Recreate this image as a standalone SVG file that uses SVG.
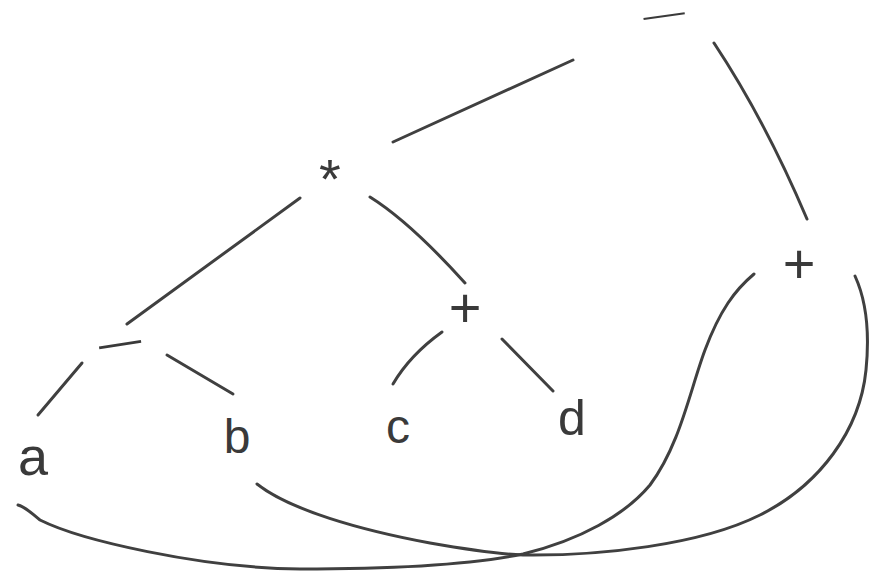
<svg xmlns="http://www.w3.org/2000/svg" width="876" height="574" viewBox="0 0 876 574">
<style>
.bg{fill:#ffffff}
.edge{fill:none;stroke:#404040;stroke-width:3;stroke-linecap:round;stroke-linejoin:round}
.lbl{font-family:"Liberation Sans",Arial,sans-serif;fill:#3a3a3a;text-anchor:middle}
</style>
<rect class="bg" x="0" y="0" width="876" height="574"/>
<g id="connectors">
<path class="edge" d="M573,60 L393,142"/>
<path class="edge" d="M714,43 Q765,120 807,219"/>
<path class="edge" d="M300,198 L127,324"/>
<path class="edge" d="M370,197 Q410,222 465,283"/>
<path class="edge" d="M82,363 L38,415"/>
<path class="edge" d="M167,355 L233,394"/>
<path class="edge" d="M442,332 Q410,355 393,384"/>
<path class="edge" d="M502,339 L553,391"/>
<path class="edge" d="M18,505 C26,507 32,514 40,520 C80,540 200,568 300,569 C400,569 470,565 523,554 C580,540 625,515 650,485 C680,445 690,390 705,350 C720,310 735,290 754,274"/>
<path class="edge" d="M257,484 C290,510 360,530 430,543 C470,550 500,554 523,555 C600,556 700,545 760,515 C820,485 860,430 866,370 C870,330 866,300 855,276"/>
</g>
<g id="n-minus-top"><text class="lbl" x="664" y="26" font-size="30" textLength="50" lengthAdjust="spacingAndGlyphs" transform="rotate(-8 664 16)">−</text></g>
<g id="n-times"><text class="lbl" x="330" y="198" font-size="56">*</text></g>
<g id="n-plus-right"><text class="lbl" x="799" y="283" font-size="56">+</text></g>
<g id="n-minus-left"><text class="lbl" x="120" y="358" font-size="40" textLength="51" lengthAdjust="spacingAndGlyphs" transform="rotate(-9 120 344)">−</text></g>
<g id="n-plus-mid"><text class="lbl" x="465" y="327" font-size="56">+</text></g>
<g id="n-a"><text class="lbl" x="33" y="475" font-size="54">a</text></g>
<g id="n-b"><text class="lbl" x="237" y="453" font-size="48">b</text></g>
<g id="n-c"><text class="lbl" x="398" y="443" font-size="48">c</text></g>
<g id="n-d"><text class="lbl" x="572" y="435" font-size="50">d</text></g>
</svg>
